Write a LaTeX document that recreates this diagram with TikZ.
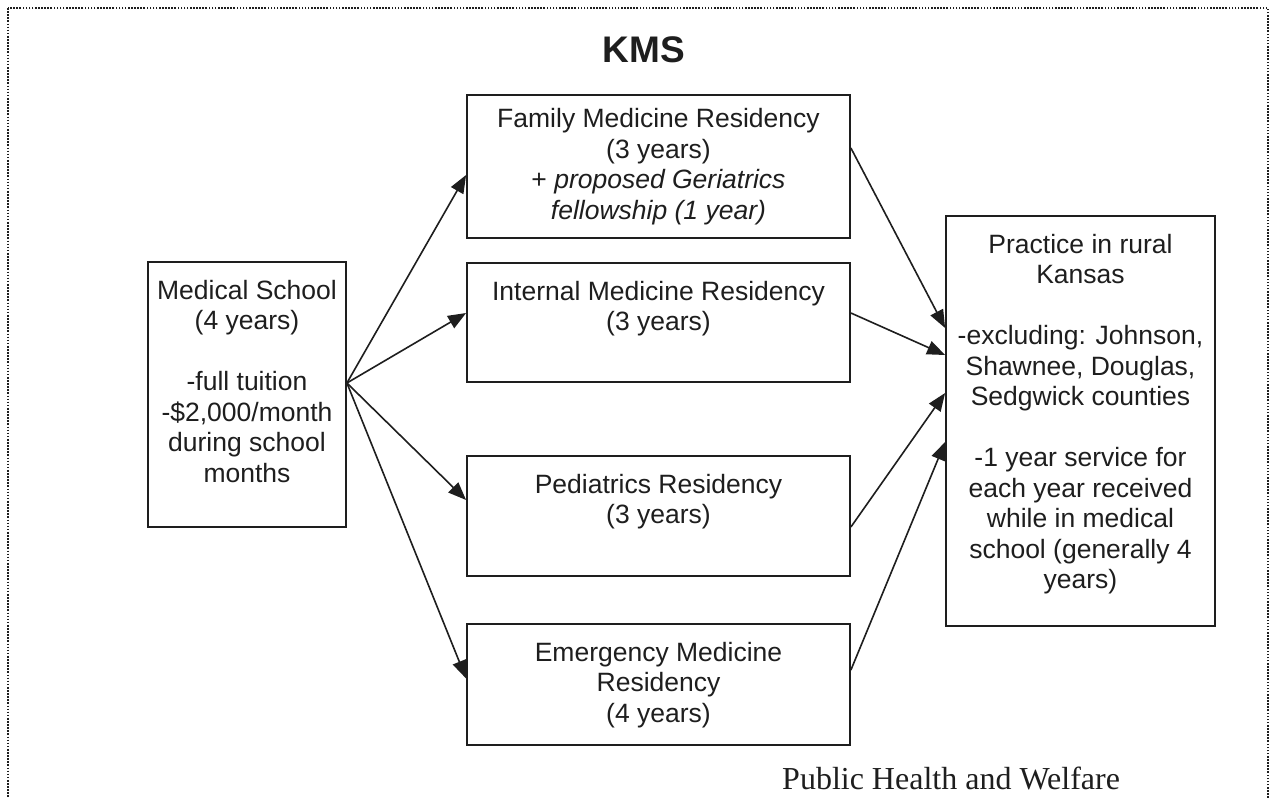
\documentclass[tikz,border=0pt]{standalone}
\usepackage{fontspec}
\setmainfont{Liberation Sans}
\newfontfamily\pubfont{Liberation Serif}
\usetikzlibrary{arrows.meta,calc}
\definecolor{ink}{HTML}{1E1E1E}
\newcommand{\topbox}[3]{\parbox[c][#2][t]{#1}{\centering\vspace*{16pt}\strut #3}}
\newcommand{\midbox}[3]{\parbox[c][#2][c]{#1}{\centering #3}}
\begin{document}
\begin{tikzpicture}[x=1pt,y=-1pt,
  box/.style={draw=ink, line width=1.8pt, rectangle, inner sep=0pt, text=ink,
    font=\fontsize{26.5}{30.5}\selectfont},
  arr/.style={draw=ink, line width=1.6pt, -{Triangle[length=18pt,width=14pt]}},
  frame/.style={draw=ink, line width=2pt, dash pattern=on 1.6pt off 1.5pt}]
\useasboundingbox (0,0) rectangle (1275,798);
\clip (0,0) rectangle (1275,798);
\fill[white] (0,0) rectangle (1275,798);
\draw[frame] (8,8) rectangle (1268,830);

\node[font=\bfseries\fontsize{37}{40}\selectfont, text=ink] (title) at (644,50) {KMS};

\node[box] (med) at (247,394.5) {\topbox{198pt}{265pt}{Medical School\\(4 years)\\[30.5pt]-full tuition\\-\$2,000/month\\during school\\months}};
\node[box] (fam) at (658.5,166.5) {\midbox{383pt}{143pt}{Family Medicine Residency\\(3 years)\\+ \textit{proposed Geriatrics}\\\textit{fellowship (1 year)}}};
\node[box] (int) at (658.5,322.5) {\topbox{383pt}{119pt}{Internal Medicine Residency\\(3 years)}};
\node[box] (ped) at (658.5,516) {\topbox{383pt}{120pt}{Pediatrics Residency\\(3 years)}};
\node[box] (emg) at (658.5,684.5) {\topbox{383pt}{121pt}{Emergency Medicine\\Residency\\(4 years)}};
\node[box] (prac) at (1080.5,421) {\topbox{269pt}{410pt}{Practice in rural\\Kansas\\[30.5pt]-excluding: Johnson,\\Shawnee, Douglas,\\Sedgwick counties\\[30.5pt]-1 year service for\\each year received\\while in medical\\school (generally 4\\years)}};

\coordinate (o) at ($(med.east)+(0,-11.5)$);
\draw[arr] (o) -- ($(fam.west)+(0,8.5)$);
\draw[arr] (o) -- ($(int.west)+(0,-9.5)$);
\draw[arr] (o) -- ($(ped.west)+(0,-16)$);
\draw[arr] (o) -- ($(emg.west)+(0,-6)$);

\draw[arr] ($(fam.east)+(0,-18.5)$) -- ($(prac.west)+(0,-93)$);
\draw[arr] ($(int.east)+(0,-9.5)$) -- ($(prac.west)+(0,-66)$);
\draw[arr] ($(ped.east)+(0,11)$) -- ($(prac.west)+(0,-28)$);
\draw[arr] ($(emg.east)+(0,-14.5)$) -- ($(prac.west)+(0,21)$);

\node[anchor=base west, inner sep=0pt, text=ink, font=\pubfont\fontsize{32}{36}\selectfont] (pub) at (782,789) {Public Health and Welfare};
\end{tikzpicture}
\end{document}
